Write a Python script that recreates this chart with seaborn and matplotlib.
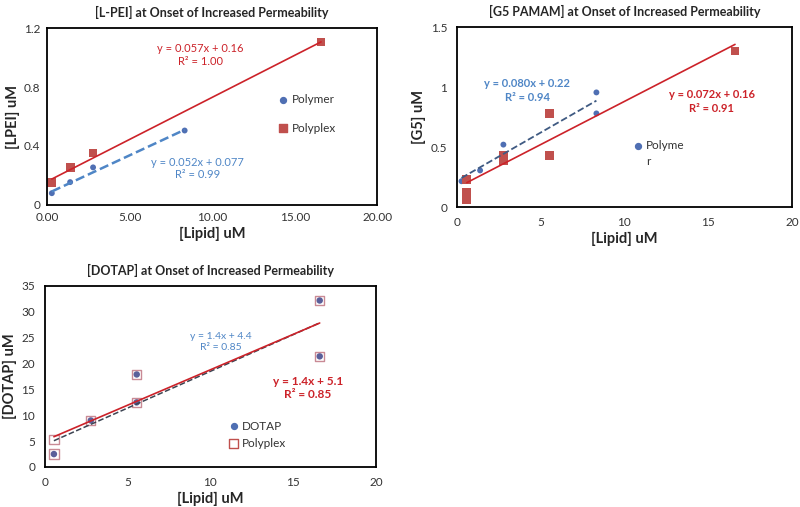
import numpy as np
import pandas as pd
import seaborn as sns
import matplotlib.pyplot as plt

# L-PEI panel
lpei_polymer_x = [0.28, 1.39, 2.78, 8.33]
lpei_polymer_y = [0.08, 0.155, 0.255, 0.505]
lpei_polyplex_x = [0.28, 1.39, 2.78, 16.6]
lpei_polyplex_y = [0.152, 0.254, 0.353, 1.105]

# G5 PAMAM panel
g5_polymer_x = [0.28, 0.55, 1.39, 2.78, 8.33, 8.33]
g5_polymer_y = [0.215, 0.235, 0.305, 0.52, 0.955, 0.78]
g5_polyplex_x = [0.6, 0.6, 0.6, 2.78, 2.78, 5.55, 5.55, 16.6]
g5_polyplex_y = [0.23, 0.125, 0.06, 0.43, 0.39, 0.78, 0.43, 1.3]

# DOTAP panel
dotap_x = [0.55, 2.78, 5.55, 5.55, 16.6, 16.6]
dotap_y = [2.5, 9.0, 17.9, 12.5, 32.2, 21.4]
dotap_polyplex_x = [0.55, 0.55, 2.78, 5.55, 5.55, 16.6, 16.6]
dotap_polyplex_y = [2.5, 5.3, 9.0, 17.9, 12.5, 32.2, 21.4]

# trendlines as drawn (slope, intercept)
fit_lpei_polymer = (0.052, 0.077)
fit_lpei_polyplex = (0.057, 0.16)
fit_g5_polymer = (0.080, 0.22)
fit_g5_polyplex = (0.072, 0.16)
fit_dotap = (1.42, 4.3)
fit_dotap_polyplex = (1.37, 5.1)

BLUE = '#4F6FB3'
LBLUE = '#4F86C6'
RED = '#C0504D'
DRED = '#CC2229'

sns.set_style('white')
plt.rcParams['font.family'] = ['Lato', 'DejaVu Sans']

fig = plt.figure(figsize=(8, 5.07), dpi=100)
ax1 = fig.add_axes([0.059, 0.5957, 0.4125, 0.349])
ax2 = fig.add_axes([0.571, 0.5917, 0.419, 0.355])
ax3 = fig.add_axes([0.056, 0.0789, 0.414, 0.357])


def trend(ax, xs, fit, color, ls, lw):
    xx = np.array([min(xs), max(xs)])
    df = pd.DataFrame({'x': xx, 'y': fit[0] * xx + fit[1]})
    sns.lineplot(data=df, x='x', y='y', ax=ax, color=color, linestyle=ls, linewidth=lw)


def style(ax, title, ylabel, xlim, ylim, xticks, yticks, xfmt, ticks):
    ax.set_xlim(*xlim)
    ax.set_ylim(*ylim)
    ax.set_xticks(xticks)
    ax.set_yticks(yticks)
    ax.set_xticklabels([xfmt.format(v) for v in xticks], fontsize=8.5, color='#333333')
    ax.set_yticklabels([('%g' % v) for v in yticks], fontsize=8.5, color='#333333')
    ax.set_title(title, fontsize=9, fontweight='bold', pad=8)
    ax.set_xlabel('[Lipid] uM', fontsize=10.5, fontweight='bold', labelpad=3)
    ax.set_ylabel(ylabel, fontsize=10.5, fontweight='bold', labelpad=3)
    for s in ax.spines.values():
        s.set_color('black')
        s.set_linewidth(1.3)
    if ticks:
        ax.tick_params(length=4, direction='inout', color='#999999', width=0.8)
    else:
        ax.tick_params(length=0)
    ax.tick_params(pad=5)


# Panel 1: L-PEI
trend(ax1, lpei_polyplex_x, fit_lpei_polyplex, DRED, '-', 1.2)
trend(ax1, lpei_polymer_x, fit_lpei_polymer, LBLUE, '--', 1.8)
sns.scatterplot(x=lpei_polymer_x, y=lpei_polymer_y, ax=ax1, color=BLUE, s=18, edgecolor='none')
sns.scatterplot(x=lpei_polyplex_x, y=lpei_polyplex_y, ax=ax1, color=RED, marker='s', s=40, edgecolor='none')
ax1.scatter([14.3], [0.713], color=BLUE, s=18)
ax1.text(14.8, 0.713, 'Polymer', fontsize=8.5, va='center', color='#333333')
ax1.scatter([14.3], [0.52], color=RED, marker='s', s=40)
ax1.text(14.8, 0.52, 'Polyplex', fontsize=8.5, va='center', color='#333333')
ax1.text(9.3, 1.064, 'y = 0.057x + 0.16', color=DRED, fontsize=8, ha='center', va='center')
ax1.text(9.3, 0.973, 'R² = 1.00', color=DRED, fontsize=8, ha='center', va='center')
ax1.text(9.1, 0.288, 'y = 0.052x + 0.077', color=LBLUE, fontsize=8, ha='center', va='center')
ax1.text(9.1, 0.204, 'R² = 0.99', color=LBLUE, fontsize=8, ha='center', va='center')
style(ax1, '[L-PEI] at Onset of Increased Permeability', '[LPEI] uM',
      (0, 20), (0, 1.2), [0, 5, 10, 15, 20], [0, 0.4, 0.8, 1.2], '{:.2f}', False)

# Panel 2: G5 PAMAM
trend(ax2, g5_polyplex_x, fit_g5_polyplex, DRED, '-', 1.2)
trend(ax2, g5_polymer_x, fit_g5_polymer, '#3F5A82', '--', 1.3)
sns.scatterplot(x=g5_polymer_x, y=g5_polymer_y, ax=ax2, color=BLUE, s=18, edgecolor='none')
sns.scatterplot(x=g5_polyplex_x, y=g5_polyplex_y, ax=ax2, color=RED, marker='s', s=40, edgecolor='none')
ax2.scatter([10.8], [0.51], color=BLUE, s=18)
ax2.text(11.3, 0.51, 'Polyme', fontsize=8.5, va='center', color='#333333')
ax2.text(11.3, 0.38, 'r', fontsize=8.5, va='center', color='#333333')
ax2.text(4.2, 1.03, 'y = 0.080x + 0.22', color=LBLUE, fontsize=8, ha='center', va='center', fontweight='bold')
ax2.text(4.2, 0.91, 'R² = 0.94', color=LBLUE, fontsize=8, ha='center', va='center', fontweight='bold')
ax2.text(15.2, 0.936, 'y = 0.072x + 0.16', color=DRED, fontsize=8, ha='center', va='center', fontweight='bold')
ax2.text(15.2, 0.82, 'R² = 0.91', color=DRED, fontsize=8, ha='center', va='center', fontweight='bold')
style(ax2, '[G5 PAMAM] at Onset of Increased Permeability', '[G5] uM',
      (0, 20), (0, 1.5), [0, 5, 10, 15, 20], [0, 0.5, 1, 1.5], '{:g}', True)

# Panel 3: DOTAP
trend(ax3, dotap_x, fit_dotap, '#3C4452', '--', 1.1)
trend(ax3, dotap_polyplex_x, fit_dotap_polyplex, DRED, '-', 1.2)
sns.scatterplot(x=dotap_x, y=dotap_y, ax=ax3, color='#5A5F9A', s=22, edgecolor='none')
sns.scatterplot(x=dotap_polyplex_x, y=dotap_polyplex_y, ax=ax3, marker='s', s=45,
                facecolor='none', edgecolor='#C98A95', linewidth=1.0)
ax3.scatter([11.4], [7.9], color=BLUE, s=18)
ax3.text(11.9, 7.9, 'DOTAP', fontsize=8.5, va='center', color='#333333')
ax3.scatter([11.4], [4.6], marker='s', s=40, facecolor='none', edgecolor=RED, linewidth=1)
ax3.text(11.9, 4.6, 'Polyplex', fontsize=8.5, va='center', color='#333333')
ax3.text(10.6, 25.3, 'y = 1.4x + 4.4', color=LBLUE, fontsize=7.5, ha='center', va='center')
ax3.text(10.6, 23.2, 'R² = 0.85', color=LBLUE, fontsize=7.5, ha='center', va='center')
ax3.text(15.9, 16.6, 'y = 1.4x + 5.1', color=DRED, fontsize=8.5, ha='center', va='center', fontweight='bold')
ax3.text(15.9, 14.0, 'R² = 0.85', color=DRED, fontsize=8.5, ha='center', va='center', fontweight='bold')
style(ax3, '[DOTAP] at Onset of Increased Permeability', '[DOTAP] uM',
      (0, 20), (0, 35), [0, 5, 10, 15, 20], list(range(0, 40, 5)), '{:g}', True)

fig.savefig('out.png', dpi=100)
